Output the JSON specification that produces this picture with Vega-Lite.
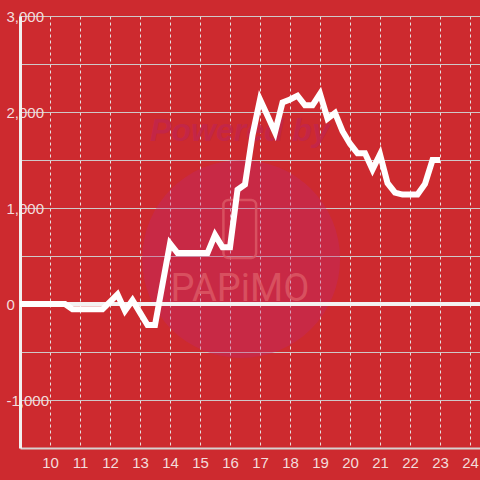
{
  "$schema": "https://vega.github.io/schema/vega-lite/v6.json",
  "width": 460,
  "height": 432,
  "autosize": {"type": "none"},
  "padding": {"left": 20, "top": 16, "right": 0, "bottom": 32},
  "background": "#CD2A2F",
  "config": {
    "view": {"stroke": null},
    "axis": {"labelFont": "Liberation Sans", "labelFontSize": 15, "labelColor": "#F3DCDC", "ticks": false, "labelFlush": false}
  },
  "datasets": {
    "series": [
      {"h": 9.0, "v": 0}, {"h": 9.5, "v": 0}, {"h": 10.0, "v": 0}, {"h": 10.5, "v": 0},
      {"h": 10.75, "v": -55}, {"h": 11.0, "v": -55}, {"h": 11.25, "v": -55}, {"h": 11.5, "v": -55},
      {"h": 11.75, "v": -55}, {"h": 12.25, "v": 100}, {"h": 12.5, "v": -70}, {"h": 12.75, "v": 40},
      {"h": 13.0, "v": -90}, {"h": 13.25, "v": -220}, {"h": 13.5, "v": -220}, {"h": 14.0, "v": 630},
      {"h": 14.25, "v": 530}, {"h": 14.5, "v": 530}, {"h": 14.75, "v": 530}, {"h": 15.0, "v": 530},
      {"h": 15.25, "v": 530}, {"h": 15.5, "v": 720}, {"h": 15.75, "v": 590}, {"h": 16.0, "v": 590},
      {"h": 16.25, "v": 1190}, {"h": 16.5, "v": 1245}, {"h": 16.75, "v": 1760}, {"h": 17.0, "v": 2130},
      {"h": 17.25, "v": 1960}, {"h": 17.5, "v": 1790}, {"h": 17.75, "v": 2100}, {"h": 18.0, "v": 2130},
      {"h": 18.25, "v": 2170}, {"h": 18.5, "v": 2070}, {"h": 18.75, "v": 2070}, {"h": 19.0, "v": 2190},
      {"h": 19.25, "v": 1930}, {"h": 19.5, "v": 1990}, {"h": 19.75, "v": 1800}, {"h": 20.0, "v": 1670},
      {"h": 20.25, "v": 1570}, {"h": 20.5, "v": 1570}, {"h": 20.75, "v": 1400}, {"h": 21.0, "v": 1560},
      {"h": 21.25, "v": 1260}, {"h": 21.5, "v": 1160}, {"h": 21.75, "v": 1140}, {"h": 22.0, "v": 1140},
      {"h": 22.25, "v": 1140}, {"h": 22.5, "v": 1250}, {"h": 22.75, "v": 1500}, {"h": 23.0, "v": 1500}
    ],
    "mark": [{"h": 16.37, "v": 469}],
    "powered": [{"h": 16.33, "v": 1800, "t": "Powered by"}],
    "brand": [{"h": 16.33, "v": 150, "t": "PAPiMO"}],
    "phone": [{"h": 15.78, "h2": 16.87, "v": 1083, "v2": 479}]
  },
  "encoding": {
    "x": {
      "field": "h", "type": "quantitative",
      "scale": {"domain": [9, 24.333], "nice": false, "zero": false},
      "axis": {
        "title": null, "values": [10, 11, 12, 13, 14, 15, 16, 17, 18, 19, 20, 21, 22, 23, 24],
        "grid": true, "gridColor": "#E6E0E0", "gridDash": [3, 3], "gridWidth": 1,
        "domainColor": "#D8D0D0", "domainWidth": 2, "labelPadding": 7
      }
    },
    "y": {
      "field": "v", "type": "quantitative",
      "scale": {"domain": [-1500, 3000], "nice": false},
      "axis": {
        "title": null, "values": [-1000, -500, 0, 500, 1000, 1500, 2000, 2500, 3000],
        "labelExpr": "datum.value % 1000 === 0 ? replace(datum.label, '−', '-') : ''",
        "grid": true, "gridColor": "#CFC8C8", "gridWidth": 1,
        "domainColor": "#F2F0F0", "domainWidth": 3, "labelPadding": 14, "labelAlign": "left"
      }
    }
  },
  "layer": [
    {
      "data": {"name": "mark"},
      "mark": {"type": "point", "shape": "circle", "filled": true, "size": 39200, "color": "#BF2870", "opacity": 0.35}
    },
    {
      "data": {"name": "powered"},
      "mark": {"type": "text", "font": "Liberation Sans", "fontSize": 32, "fontWeight": "bold", "fontStyle": "italic", "color": "#C3264A", "opacity": 0.9, "align": "center", "baseline": "middle"},
      "encoding": {"text": {"field": "t"}}
    },
    {
      "data": {"name": "phone"},
      "mark": {"type": "rect", "filled": false, "stroke": "#DC5A66", "strokeWidth": 2.5, "cornerRadius": 5, "opacity": 0.8},
      "encoding": {"x2": {"field": "h2"}, "y2": {"field": "v2"}}
    },
    {
      "data": {"name": "brand"},
      "mark": {"type": "text", "font": "Roboto", "fontSize": 38, "fontWeight": 400, "color": "#DC5A66", "opacity": 0.8, "align": "center", "baseline": "middle"},
      "encoding": {"text": {"field": "t"}}
    },
    {
      "data": {"name": "series"},
      "mark": {"type": "rule", "color": "#F4F2F2", "strokeWidth": 3},
      "encoding": {"y": {"datum": 0}, "x": null}
    },
    {
      "data": {"name": "series"},
      "mark": {"type": "line", "color": "#FFFFFF", "strokeWidth": 6, "strokeJoin": "miter"}
    }
  ]
}
